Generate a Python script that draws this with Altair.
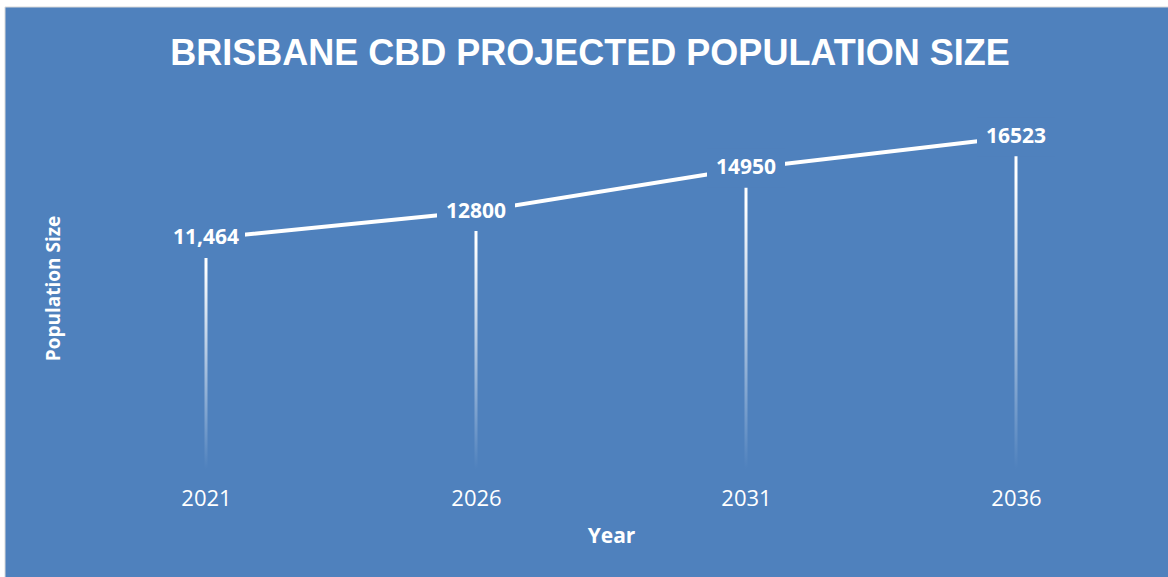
import altair as alt
import pandas as pd

years = ["2021", "2026", "2031", "2036"]
population = [11464, 12800, 14950, 16523]
labels = ["11,464", "12800", "14950", "16523"]

title_text = "BRISBANE CBD PROJECTED POPULATION SIZE"
x_title = "Year"
y_title = "Population Size"

BG = "#4F81BD"
FONT = "Open Sans"

df = pd.DataFrame({"year": years, "population": population, "label": labels})

x_enc = alt.X(
    "year:O",
    sort=years,
    scale=alt.Scale(type="point", padding=0.5),
    axis=alt.Axis(
        title=x_title, labelAngle=0, domain=False, ticks=False, grid=False,
        labelFont=FONT, labelFontSize=22, labelColor="white", labelPadding=19,
        titleFont=FONT, titleFontSize=21, titleFontWeight="bold", titleColor="white",
        titlePadding=16, zindex=1,
    ),
)
y_enc = alt.Y(
    "population:Q",
    scale=alt.Scale(domain=[0, 18000]),
    axis=alt.Axis(
        title=y_title, labels=False, ticks=False, domain=False, grid=False,
        titleFont=FONT, titleFontSize=19, titleFontWeight="bold", titleColor="white",
        titlePadding=8, zindex=1,
    ),
)

background = alt.Chart(alt.Data(values=[{}])).mark_rect(
    fill=BG, stroke="#D9D9D9", strokeWidth=1
).encode(
    x=alt.value(-66), x2=alt.value(1098), y=alt.value(-100), y2=alt.value(471)
)

base = alt.Chart(df)

drops = base.mark_bar(
    size=3,
    color=alt.Gradient(
        gradient="linear",
        stops=[
            alt.GradientStop(color="#FFFFFF", offset=0),
            alt.GradientStop(color="#FFFFFF", offset=0.12),
            alt.GradientStop(color=BG, offset=1),
        ],
        x1=0, x2=0, y1=0, y2=1,
    ),
).encode(x=x_enc, y=y_enc)

line = base.mark_line(color="white", strokeWidth=4).encode(x=x_enc, y=y_enc)

label_bg = base.mark_point(
    shape="M-1,-0.5L1,-0.5L1,0.5L-1,0.5Z",
    size=78 * 78,
    filled=True,
    fill=BG,
    opacity=1,
    strokeWidth=0,
).encode(x=x_enc, y=y_enc)

label_text = base.mark_text(
    font=FONT, fontWeight="bold", fontSize=21, color="white",
    align="center", baseline="middle",
).encode(x=x_enc, y=y_enc, text="label:N")

title = alt.Chart(alt.Data(values=[{"t": title_text}])).mark_text(
    font="Liberation Sans", fontWeight="bold", fontSize=36, color="white",
    align="center", baseline="middle",
).encode(x=alt.value(519), y=alt.value(-53), text="t:N")

chart = alt.layer(background, drops, line, label_bg, label_text, title).properties(
    width=1080,
    height=362,
    background="white",
    padding={"left": 71, "top": 107, "right": 17, "bottom": 108},
    autosize=alt.AutoSizeParams(type="none"),
).configure_view(stroke=None)

chart.save("out.html", embed_options={"renderer": "svg", "actions": False})
